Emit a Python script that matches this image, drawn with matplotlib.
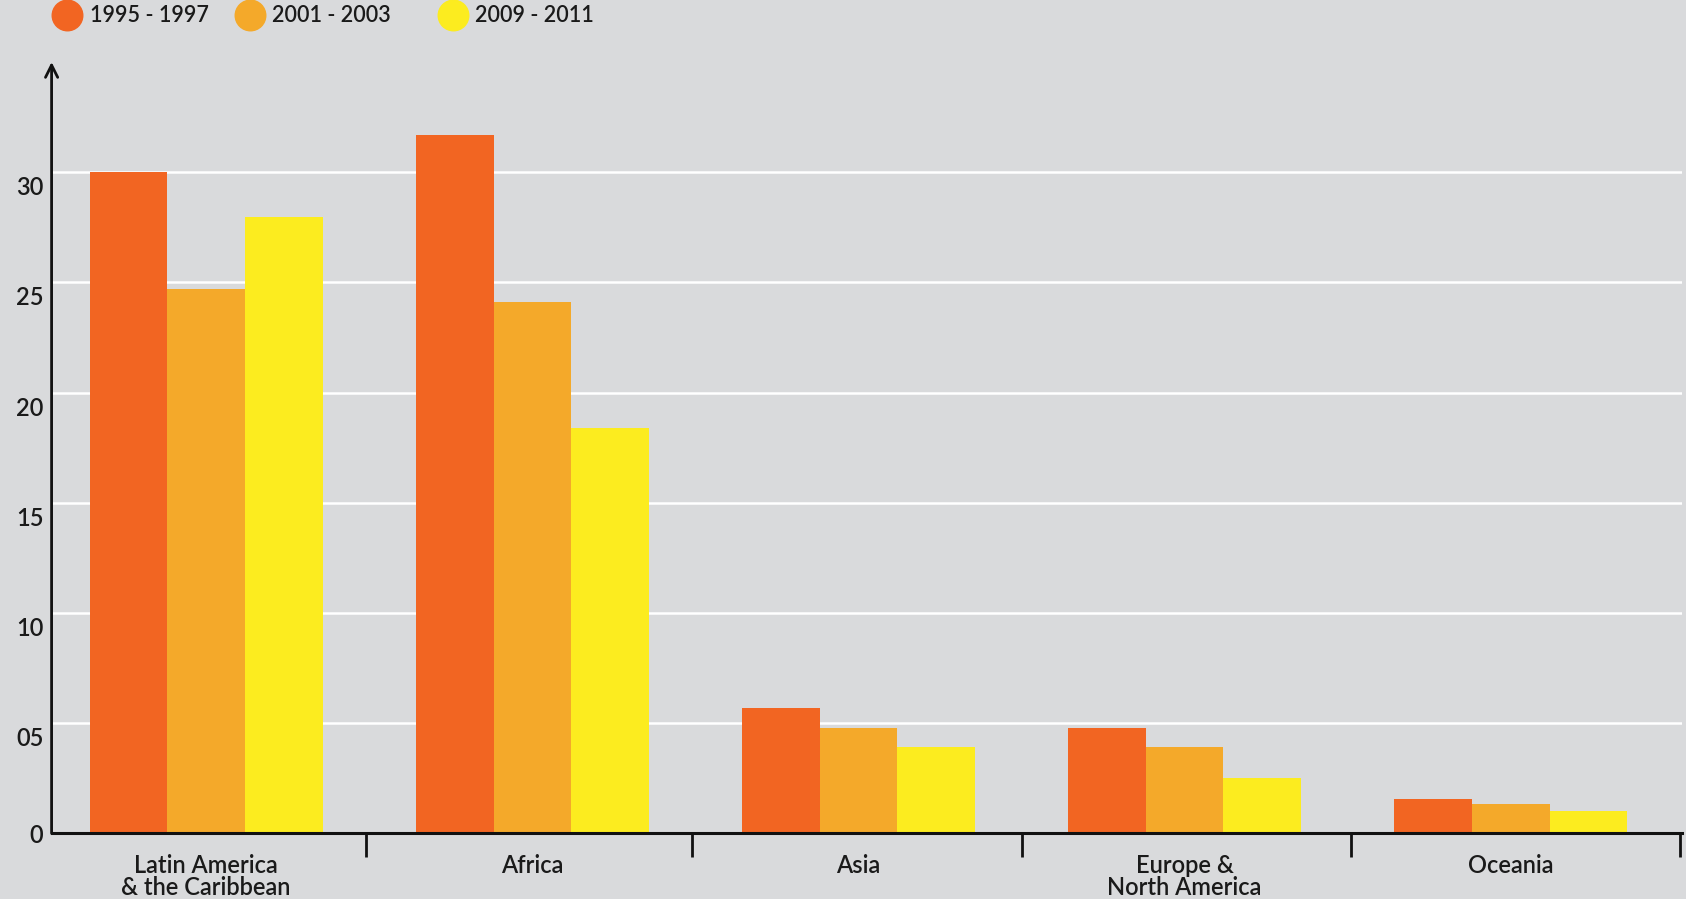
import matplotlib
matplotlib.use("Agg")
import matplotlib.pyplot as plt
import matplotlib.transforms as mtransforms
from matplotlib.lines import Line2D
import numpy as np

categories = ["Latin America\n& the Caribbean", "Africa", "Asia", "Europe &\nNorth America", "Oceania"]
series_names = ["1995 - 1997", "2001 - 2003", "2009 - 2011"]
s1995 = [30.0, 31.7, 5.7, 4.8, 1.55]
s2001 = [24.7, 24.1, 4.8, 3.9, 1.35]
s2009 = [27.95, 18.4, 3.9, 2.5, 1.0]
yticks = [0, 5, 10, 15, 20, 25, 30]
ytick_labels = ["0", "05", "10", "15", "20", "25", "30"]

colors = ["#f26522", "#f4a92a", "#fcec1f"]
bg = "#d9dadc"
font = "Lato"
txt = "#1a1a1a"

plt.rcParams['font.family'] = [font, 'DejaVu Sans']
plt.rcParams['font.weight'] = 'semibold'

fig = plt.figure(figsize=(16.86, 8.99), dpi=100)
fig.patch.set_facecolor(bg)
ax = fig.add_axes([0.0306, 0.073, 0.967, 0.858])
ax.set_facecolor(bg)

x = np.arange(len(categories))
w = 0.238
for i, (vals, c) in enumerate(zip([s1995, s2001, s2009], colors)):
    ax.bar(x + (i - 1) * w, vals, width=w, color=c, zorder=3, linewidth=0)

ax.set_xlim(-0.474, 4.525)
ax.set_ylim(0, 35)

ax.set_yticks(yticks)
ax.set_yticklabels(ytick_labels, fontsize=17, color=txt)
ax.yaxis.grid(True, color="white", linewidth=1.8, zorder=1)
ax.tick_params(axis='y', length=0, pad=6)
shift = mtransforms.ScaledTranslation(0, -4 / 100, fig.dpi_scale_trans)
for lbl, v in zip(ax.get_yticklabels(), yticks):
    if v != 0:
        lbl.set_va('top')
        lbl.set_transform(lbl.get_transform() + shift)

ax.set_xticks(x)
ax.set_xticklabels(categories, fontsize=17, color=txt, linespacing=0.95, va='top')
ax.tick_params(axis='x', which='major', length=0, pad=15)
ax.set_xticks([0.49, 1.49, 2.5, 3.51, 4.52], minor=True)
ax.tick_params(axis='x', which='minor', length=17, width=2, color='#111111')

for s in ['top', 'right', 'left']:
    ax.spines[s].set_visible(False)
ax.spines['bottom'].set_linewidth(2.2)
ax.spines['bottom'].set_color('#111111')
ax.spines['bottom'].set_zorder(5)

ax.annotate("", xy=(0, 1.0), xycoords='axes fraction', xytext=(0, 0), textcoords='axes fraction',
            arrowprops=dict(arrowstyle='->', lw=2, color='#111111', mutation_scale=22, shrinkA=0, shrinkB=0),
            annotation_clip=False, zorder=6)

# legend
leg_x = [0.0396, 0.148, 0.2685]
for lx, name, c in zip(leg_x, series_names, colors):
    fig.add_artist(Line2D([lx], [0.983], marker='o', markersize=22, color=c, linestyle='none',
                          transform=fig.transFigure))
    fig.text(lx + 0.0135, 0.983, name, fontsize=15.5, va='center', ha='left', color=txt)

fig.savefig("out.png", dpi=100, facecolor=bg)
